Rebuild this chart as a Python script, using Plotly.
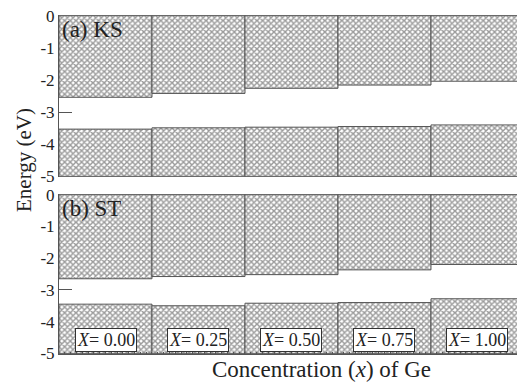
import plotly.graph_objects as go
from plotly.subplots import make_subplots

concentrations = ["0.00", "0.25", "0.50", "0.75", "1.00"]
ks_upper_bottom = [-2.54, -2.42, -2.26, -2.16, -2.04]
ks_lower_top = [-3.53, -3.49, -3.47, -3.45, -3.40]
st_upper_bottom = [-2.65, -2.58, -2.52, -2.37, -2.20]
st_lower_top = [-3.45, -3.50, -3.42, -3.40, -3.28]
y_min, y_max = -5, 0
yticks = [0, -1, -2, -3, -4, -5]

xs = list(range(len(concentrations)))

fig = make_subplots(rows=2, cols=1, shared_xaxes=True, vertical_spacing=0.05)

pattern = dict(shape="x", fgcolor="#383838", bgcolor="white", size=4, solidity=0.6)
line = dict(color="#555555", width=1)

def add_blocks(upper, lower, row):
    fig.add_trace(go.Bar(x=xs, y=[y_max - u for u in upper], base=upper, width=1,
                         marker=dict(color="white", pattern=pattern, line=line),
                         showlegend=False, hoverinfo="skip"), row=row, col=1)
    fig.add_trace(go.Bar(x=xs, y=[l - y_min for l in lower], base=[y_min] * len(lower), width=1,
                         marker=dict(color="white", pattern=pattern, line=line),
                         showlegend=False, hoverinfo="skip"), row=row, col=1)

add_blocks(ks_upper_bottom, ks_lower_top, 1)
add_blocks(st_upper_bottom, st_lower_top, 2)

W, H = 517, 383
ml, mr, mt, mb = 59, 0, 15, 29
ph = H - mt - mb
pw = W - ml - mr
serif = "Liberation Serif"
ink = "#222222"
fig.update_layout(
    width=W, height=H, barmode="overlay", plot_bgcolor="white", paper_bgcolor="white",
    margin=dict(l=ml, r=mr, t=mt, b=mb),
    font=dict(family=serif, color=ink),
)
top_dom = [(354 - 177) / ph, 1.0]
bot_dom = [0.0, (354 - 194) / ph]
for ax, dom in (("yaxis", top_dom), ("yaxis2", bot_dom)):
    fig.layout[ax].update(
        domain=dom, range=[y_min - 0.02, y_max + 0.02], tickvals=yticks,
        ticktext=[str(t) for t in yticks], ticks="inside", ticklen=13, tickcolor="#555555",
        showline=True, linecolor="#555555", linewidth=1, showgrid=False, zeroline=False,
        tickfont=dict(size=17, family=serif, color=ink), layer="below traces",
    )
fig.update_xaxes(range=[-0.5, 4.425], showgrid=False, zeroline=False, showticklabels=False)
fig.update_xaxes(showline=False, ticks="", row=1, col=1)
fig.update_xaxes(showline=True, linecolor="#555555", ticks="inside", dtick=0.0625, tick0=-0.5,
                 ticklen=2, tickcolor="#555555", row=2, col=1)

ann = []
for i, c in enumerate(concentrations):
    ann.append(dict(x=i, y=-5, xref="x2", yref="y2", yanchor="bottom", xanchor="center", yshift=1,
                    text=f"<i>X</i>= {c}", showarrow=False, bgcolor="white",
                    bordercolor="#333333", borderwidth=1, borderpad=1,
                    font=dict(size=18, family=serif, color=ink)))
ann.append(dict(x=-0.49, y=0, xref="x", yref="y", xanchor="left", yanchor="top", yshift=1,
                text="(a) KS", showarrow=False, font=dict(size=23, family=serif, color=ink)))
ann.append(dict(x=-0.49, y=0, xref="x2", yref="y2", xanchor="left", yanchor="top", yshift=1,
                text="(b) ST", showarrow=False, font=dict(size=23, family=serif, color=ink)))
ann.append(dict(x=(24 - ml) / pw, y=(H - 160 - mb) / ph, xref="paper", yref="paper",
                xanchor="center", yanchor="middle",
                text="Energy (eV)", textangle=-90, showarrow=False,
                font=dict(size=21, family=serif, color=ink)))
ann.append(dict(x=(321 - ml) / pw, y=(H - 369 - mb) / ph, xref="paper", yref="paper",
                xanchor="center", yanchor="middle",
                text="Concentration (<i>x</i>) of Ge", showarrow=False,
                font=dict(size=23, family=serif, color=ink)))
fig.update_layout(annotations=ann)
fig.write_html("out.html")
